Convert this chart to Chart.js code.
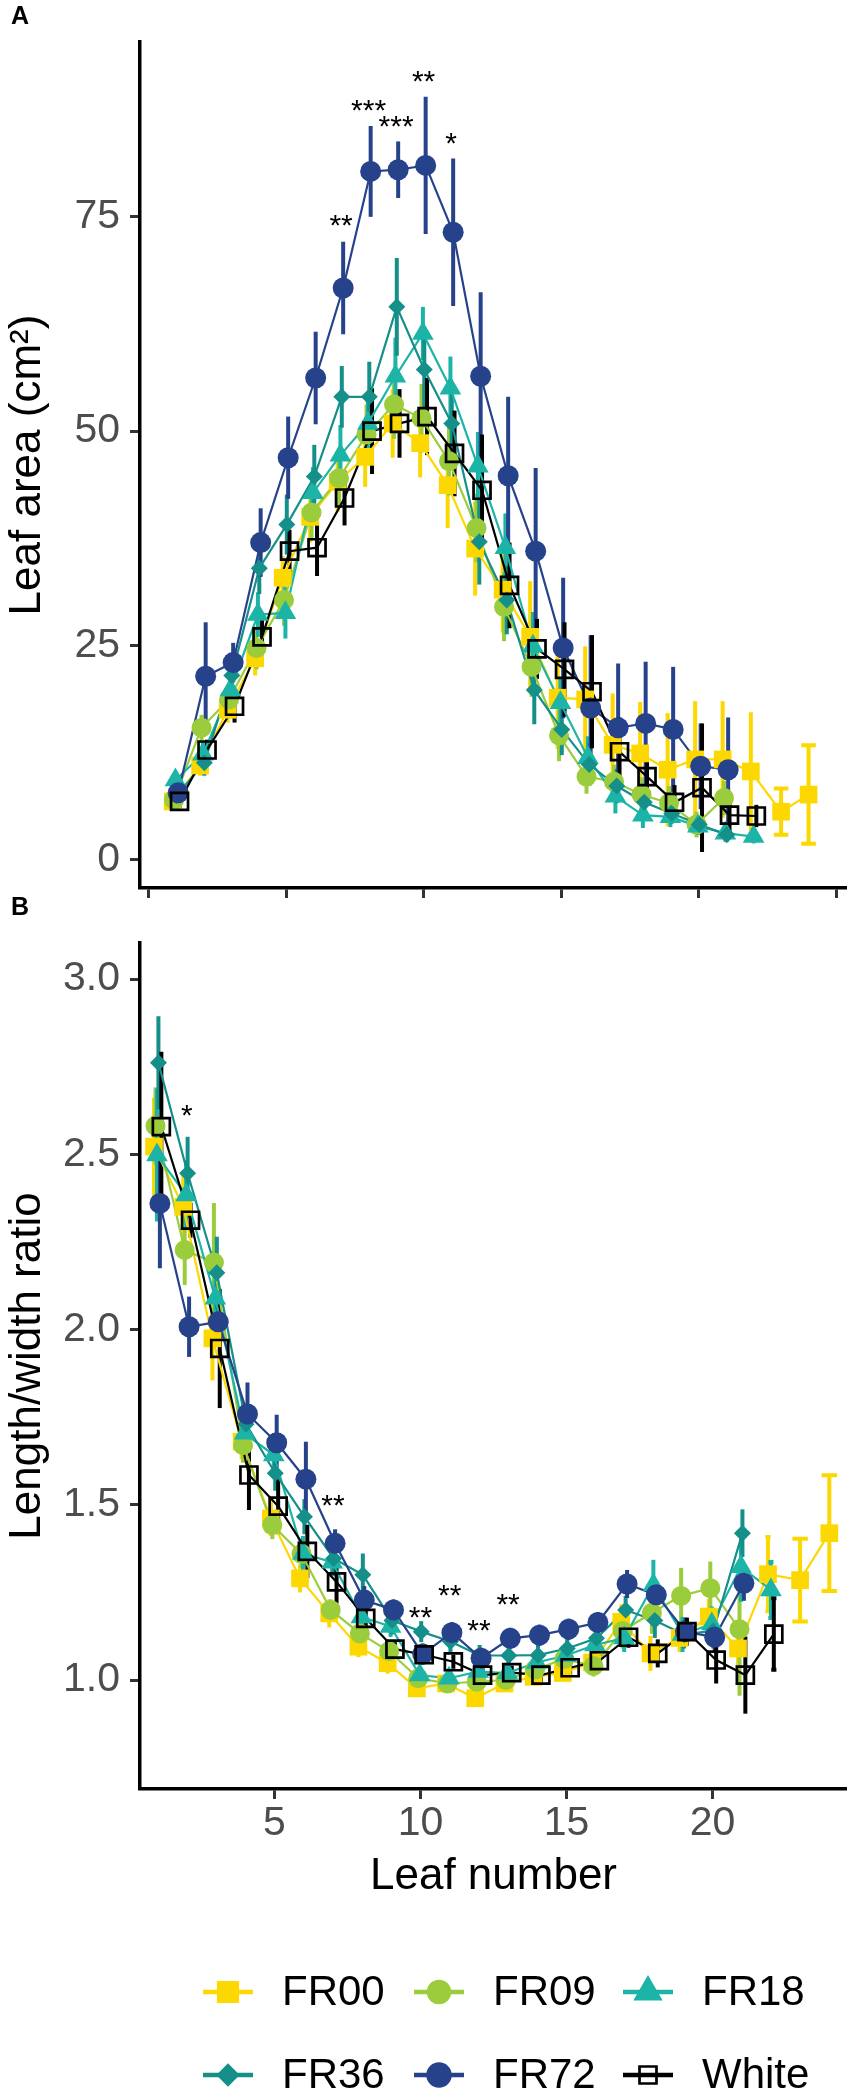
<!DOCTYPE html>
<html>
<head>
<meta charset="utf-8">
<title>Leaf area and length/width ratio per leaf number</title>
<script src="https://cdn.jsdelivr.net/npm/chart.js@4.4.1/dist/chart.umd.min.js"></script>
<style>
  html, body { margin: 0; padding: 0; background: #ffffff; }
  #page { position: relative; width: 847px; height: 2091px; overflow: hidden; }
  #page canvas { position: absolute; left: 0; }
  #chartA { top: 0; }
  #chartB { top: 890px; }
</style>
</head>
<body>
<div id="page">
  <canvas id="chartA" width="847" height="905"></canvas>
  <canvas id="chartB" width="847" height="1201"></canvas>
</div>
<script>
/* --------------------------------------------------------------------------
   1. DATA  (leaf 1, 2, 3 ... per treatment)
   -------------------------------------------------------------------------- */
const seriesNames = ['FR00', 'FR09', 'FR18', 'FR36', 'FR72', 'White'];

// Panel A: leaf area (cm²), mean and error half-width
const areaFR00  = [6.8, 11.0, 17.5, 23.5, 32.9, 40.0, 44.1, 47.0, 50.9, 48.6, 43.7, 36.3, 31.5, 26.0, 18.9, 18.7, 13.4, 12.4, 10.5, 11.7, 11.7, 10.3, 5.6, 7.6];
const areaFR09  = [7.0, 15.4, 18.7, 24.7, 30.3, 40.5, 44.5, 49.6, 53.1, 51.5, 46.5, 38.7, 29.5, 22.5, 14.5, 9.7, 9.1, 7.6, 6.6, 4.1, 7.2];
const areaFR18  = [9.3, 12.3, 19.8, 28.6, 28.8, 42.8, 47.2, 50.9, 56.4, 61.4, 55.0, 45.9, 36.4, 24.9, 18.3, 11.9, 7.4, 5.2, 5.0, 3.9, 3.1, 2.7];
const areaFR36  = [7.5, 11.3, 21.5, 34.0, 39.1, 44.7, 54.0, 54.0, 64.5, 57.2, 50.9, 37.1, 30.3, 19.8, 15.2, 11.1, 8.6, 6.7, 5.4, 4.1, 2.9];
const areaFR72  = [7.8, 21.4, 23.0, 37.0, 46.9, 56.2, 66.7, 80.3, 80.5, 81.0, 73.2, 56.4, 44.8, 36.0, 24.7, 17.7, 15.4, 15.9, 15.2, 10.9, 10.5];
const areaWhite = [6.8, 12.8, 17.9, 26.0, 36.0, 36.4, 42.2, 50.0, 50.9, 51.7, 47.4, 43.1, 32.0, 24.6, 22.2, 19.6, 12.6, 9.7, 6.7, 8.4, 5.2, 5.1];

const seAreaFR00  = [0.8, 1.2, 1.5, 2.0, 2.5, 3.0, 3.5, 3.5, 4.0, 4.0, 5.0, 5.5, 5.0, 6.5, 6.0, 6.2, 6.0, 6.0, 6.6, 6.8, 6.8, 6.9, 2.7, 5.75];
const seAreaFR09  = [1.0, 1.5, 2.0, 2.5, 3.0, 3.0, 3.5, 3.5, 4.0, 4.0, 4.0, 4.0, 4.0, 3.5, 3.0, 2.0, 2.0, 2.0, 2.0, 1.5, 2.0];
const seAreaFR18  = [1.0, 1.5, 2.0, 2.6, 3.0, 3.0, 3.5, 3.5, 4.5, 3.1, 3.7, 4.0, 4.0, 4.0, 3.0, 2.5, 2.0, 1.5, 1.2, 1.0, 1.0, 0.8];
const seAreaFR36  = [1.0, 1.5, 2.0, 3.0, 3.5, 3.7, 3.6, 4.1, 5.7, 4.5, 4.5, 5.0, 4.0, 4.0, 3.0, 2.5, 2.0, 1.5, 1.2, 1.0, 0.8];
const seAreaFR72  = [1.0, 6.3, 2.3, 4.0, 4.8, 5.4, 5.4, 5.3, 3.3, 8.0, 8.6, 9.8, 9.2, 9.7, 8.2, 8.5, 7.5, 7.2, 7.3, 5.0, 6.1];
const seAreaWhite = [0.8, 1.2, 1.9, 2.0, 2.5, 3.3, 3.2, 5.0, 4.0, 4.5, 5.0, 6.5, 5.0, 3.5, 5.5, 6.6, 4.0, 3.0, 2.0, 7.5, 2.5, 1.3];

// Panel B: length/width ratio, mean and error half-width
const ratioFR00  = [2.522, 2.350, 1.975, 1.680, 1.461, 1.290, 1.190, 1.095, 1.048, 0.976, 0.990, 0.948, 0.990, 1.009, 1.020, 1.050, 1.166, 1.076, 1.120, 1.181, 1.090, 1.302, 1.285, 1.419];
const ratioFR09  = [2.581, 2.227, 2.191, 1.670, 1.442, 1.360, 1.200, 1.133, 1.082, 1.005, 0.990, 0.995, 1.000, 1.030, 1.060, 1.040, 1.140, 1.192, 1.240, 1.262, 1.145];
const ratioFR18  = [2.498, 2.384, 2.089, 1.704, 1.642, 1.361, 1.336, 1.180, 1.153, 1.014, 1.005, 1.024, 1.020, 1.050, 1.070, 1.100, 1.120, 1.271, 1.130, 1.160, 1.323, 1.257];
const ratioFR36  = [2.761, 2.446, 2.162, 1.730, 1.590, 1.466, 1.347, 1.300, 1.170, 1.138, 1.110, 1.070, 1.070, 1.071, 1.090, 1.119, 1.200, 1.170, 1.130, 1.140, 1.419];
const ratioFR72  = [2.360, 2.008, 2.022, 1.759, 1.677, 1.573, 1.390, 1.228, 1.200, 1.074, 1.135, 1.062, 1.119, 1.128, 1.145, 1.164, 1.274, 1.243, 1.138, 1.122, 1.276];
const ratioWhite = [2.579, 2.312, 1.946, 1.585, 1.496, 1.367, 1.280, 1.176, 1.088, 1.072, 1.052, 1.014, 1.021, 1.014, 1.035, 1.055, 1.122, 1.076, 1.138, 1.057, 1.014, 1.131];

const seRatioFR00  = [0.14, 0.10, 0.12, 0.05, 0.05, 0.04, 0.04, 0.03, 0.03, 0.02, 0.02, 0.02, 0.02, 0.02, 0.02, 0.03, 0.05, 0.05, 0.04, 0.05, 0.06, 0.106, 0.118, 0.165];
const seRatioFR09  = [0.11, 0.10, 0.17, 0.05, 0.04, 0.04, 0.03, 0.03, 0.03, 0.02, 0.02, 0.02, 0.02, 0.02, 0.03, 0.03, 0.05, 0.06, 0.08, 0.076, 0.19];
const seRatioFR18  = [0.19, 0.10, 0.08, 0.05, 0.05, 0.05, 0.04, 0.03, 0.03, 0.02, 0.02, 0.02, 0.02, 0.02, 0.03, 0.03, 0.04, 0.072, 0.05, 0.05, 0.10, 0.08];
const seRatioFR36  = [0.133, 0.104, 0.103, 0.06, 0.05, 0.05, 0.05, 0.061, 0.04, 0.03, 0.03, 0.03, 0.03, 0.03, 0.03, 0.03, 0.04, 0.05, 0.04, 0.05, 0.068];
const seRatioFR72  = [0.185, 0.086, 0.07, 0.09, 0.08, 0.107, 0.04, 0.04, 0.03, 0.03, 0.03, 0.03, 0.03, 0.03, 0.03, 0.03, 0.04, 0.04, 0.04, 0.04, 0.05];
const seRatioWhite = [0.214, 0.05, 0.17, 0.10, 0.08, 0.076, 0.062, 0.03, 0.02, 0.02, 0.02, 0.02, 0.02, 0.02, 0.02, 0.02, 0.03, 0.04, 0.04, 0.067, 0.11, 0.102];

// significance marks (leaf, height of the mark, text)
const starLeafA = [7, 8, 9, 10, 11];
const starValA  = [74.9, 88.3, 86.4, 91.7, 84.4];
const starTextA = ['**', '***', '***', '**', '*'];
const starLeafB = [2, 7, 10, 11, 12, 13];
const starValB  = [2.631, 1.518, 1.200, 1.262, 1.164, 1.238];
const starTextB = ['*', '**', '**', '**', '**', '**'];

// tick values
const ticksAx = [0, 5, 10, 15, 20, 25];
const ticksAy = [0, 25, 50, 75];
const ticksBx = [5, 10, 15, 20];
const ticksBy = [1.0, 1.5, 2.0, 2.5, 3.0];

/* --------------------------------------------------------------------------
   2. STYLE
   -------------------------------------------------------------------------- */
const FONT = "'Liberation Sans', Arial, Helvetica, sans-serif";
const COLORS = ['#FDD700', '#9BCC3B', '#1DB4A8', '#148F89', '#26428B', '#000000'];
const MARKERS = [
  { style: 'rect',     radius: 12.5, fill: true  },
  { style: 'circle',   radius: 10,   fill: true  },
  { style: 'triangle', radius: 12.5, fill: true  },
  { style: 'rectRot',  radius: 8.5,  fill: true  },
  { style: 'circle',   radius: 10.5, fill: true  },
  { style: 'rect',     radius: 12,   fill: false },
];
const DODGE = 0.3;   // like position_dodge(): series at one leaf share this width
const CAP = 0.53;    // errorbar width, also shared between the series at a leaf
const ERR_LW = 4;

Chart.defaults.font.family = FONT;

// dodge the series that exist at each leaf, as ggplot does
function buildPoints(valueArrays) {
  const maxLeaf = Math.max(...valueArrays.map(a => a.length));
  const out = valueArrays.map(() => []);
  for (let leaf = 1; leaf <= maxLeaf; leaf++) {
    const present = [];
    valueArrays.forEach((a, i) => { if (a.length >= leaf) present.push(i); });
    const n = present.length;
    present.forEach((i, j) => {
      out[i].push({ x: leaf + (j - (n - 1) / 2) * DODGE / n, y: valueArrays[i][leaf - 1], n: n });
    });
  }
  return out;
}

/* --------------------------------------------------------------------------
   3. PLUGINS (error bars, stars, panel tag, legend)
   -------------------------------------------------------------------------- */
function errorBars(points, se) {
  return {
    id: 'errorBars',
    beforeDatasetsDraw(chart) {
      const { ctx } = chart;
      const xs = chart.scales.x, ys = chart.scales.y;
      ctx.save();
      ctx.lineWidth = ERR_LW;
      ctx.lineCap = 'butt';
      points.forEach((pts, i) => {
        ctx.strokeStyle = COLORS[i];
        pts.forEach((pt, k) => {
          const e = se[i][k];
          const px = xs.getPixelForValue(pt.x);
          const y1 = ys.getPixelForValue(pt.y - e);
          const y2 = ys.getPixelForValue(pt.y + e);
          ctx.beginPath();
          ctx.moveTo(px, y1);
          ctx.lineTo(px, y2);
          const half = xs.getPixelForValue(pt.x + CAP / pt.n / 2) - px;
          if (half * 2 > ERR_LW + 1) {
            ctx.moveTo(px - half, y1); ctx.lineTo(px + half, y1);
            ctx.moveTo(px - half, y2); ctx.lineTo(px + half, y2);
          }
          ctx.stroke();
        });
      });
      ctx.restore();
    }
  };
}

function starLabels(leaves, vals, texts) {
  return {
    id: 'starLabels',
    afterDatasetsDraw(chart) {
      const { ctx } = chart;
      ctx.save();
      ctx.fillStyle = '#000';
      ctx.font = '30px ' + FONT;
      ctx.textAlign = 'center';
      ctx.textBaseline = 'alphabetic';
      leaves.forEach((leaf, k) => {
        const px = chart.scales.x.getPixelForValue(leaf);
        const py = chart.scales.y.getPixelForValue(vals[k]);
        ctx.fillText(texts[k], px, py + 17);
      });
      ctx.restore();
    }
  };
}

function panelTag(letter, y) {
  return {
    id: 'panelTag',
    afterDraw(chart) {
      const { ctx } = chart;
      ctx.save();
      ctx.fillStyle = '#000';
      ctx.font = 'bold 25px ' + FONT;
      ctx.textAlign = 'left';
      ctx.textBaseline = 'middle';
      ctx.fillText(letter, 11, y);
      ctx.restore();
    }
  };
}

function drawMarker(ctx, i, x, y) {
  const m = MARKERS[i];
  ctx.fillStyle = m.fill ? COLORS[i] : 'rgba(0,0,0,0)';
  ctx.strokeStyle = COLORS[i];
  ctx.lineWidth = m.fill ? 0 : 2.7;
  Chart.helpers.drawPoint(ctx, { pointStyle: m.style, radius: m.radius, rotation: 0, borderWidth: ctx.lineWidth }, x, y);
}

// legend below panel B: 3 columns x 2 rows
const keyLegend = {
  id: 'keyLegend',
  afterDraw(chart) {
    const { ctx } = chart;
    const colX = [203, 414, 623];
    const rowY = [1102, 1185];
    ctx.save();
    seriesNames.forEach((name, i) => {
      const x0 = colX[i % 3], cy = rowY[Math.floor(i / 3)];
      ctx.strokeStyle = COLORS[i];
      ctx.lineWidth = 4.5;
      ctx.beginPath();
      ctx.moveTo(x0, cy);
      ctx.lineTo(x0 + 50, cy);
      ctx.stroke();
      drawMarker(ctx, i, x0 + 25, cy);
      ctx.fillStyle = '#000';
      ctx.font = '42px ' + FONT;
      ctx.textAlign = 'left';
      ctx.textBaseline = 'middle';
      ctx.fillText(name, x0 + 79, cy + 1);
    });
    ctx.restore();
  }
};

/* --------------------------------------------------------------------------
   4. CHARTS
   -------------------------------------------------------------------------- */
// keep tick labels from pushing the plot area around
function noOverflow(s) {
  s.paddingTop = 0; s.paddingBottom = 0; s.paddingLeft = 0; s.paddingRight = 0;
}

function panelChart(canvasId, p) {
  const pts = buildPoints(p.values);
  const datasets = [];
  // lines first (drawn underneath), then the markers, White on top
  pts.forEach((data, i) => {
    datasets.push({
      label: seriesNames[i] + ' line', data: data,
      borderColor: COLORS[i], borderWidth: 2.2, pointRadius: 0, fill: false,
      order: 100 + (5 - i),
    });
  });
  pts.forEach((data, i) => {
    const m = MARKERS[i];
    datasets.push({
      label: seriesNames[i], data: data, showLine: false,
      pointStyle: m.style, pointRadius: m.radius,
      pointBackgroundColor: m.fill ? COLORS[i] : 'rgba(0,0,0,0)',
      pointBorderColor: COLORS[i], pointBorderWidth: m.fill ? 0 : 2.7,
      order: 5 - i,
    });
  });

  const axisBorder = { display: true, color: '#000000', width: 3.5 };
  const axisGrid = { drawOnChartArea: false, drawTicks: true, tickLength: 10, tickWidth: 3, tickColor: '#333333' };

  return new Chart(document.getElementById(canvasId), {
    type: 'line',
    data: { datasets: datasets },
    options: {
      responsive: false,
      animation: false,
      events: [],
      layout: { autoPadding: false, padding: p.padding },
      plugins: { legend: { display: false }, tooltip: { enabled: false } },
      scales: {
        x: {
          type: 'linear', min: p.xMin, max: p.xMax,
          afterBuildTicks: s => { s.ticks = p.xTicks.map(v => ({ value: v })); },
          afterFit: s => { s.height = p.xHeight; noOverflow(s); },
          border: axisBorder,
          grid: axisGrid,
          ticks: {
            display: p.xLabels, color: '#4D4D4D', font: { size: 41 }, padding: 0,
            maxRotation: 0, autoSkip: false, callback: v => String(v),
          },
          title: {
            display: !!p.xTitle, text: p.xTitle || '', color: '#000000',
            font: { size: 44 }, padding: { top: 0, bottom: 1 },
          },
        },
        y: {
          type: 'linear', min: p.yMin, max: p.yMax,
          afterBuildTicks: s => { s.ticks = p.yTicks.map(v => ({ value: v })); },
          afterFit: s => { s.width = 140; noOverflow(s); },
          border: axisBorder,
          grid: axisGrid,
          ticks: { color: '#4D4D4D', font: { size: 41 }, padding: 10, callback: p.yFormat },
          title: {
            display: true, text: p.yTitle, color: '#000000',
            font: { size: 44 }, padding: { top: 1.5, bottom: 0 },
          },
        },
      },
    },
    plugins: [errorBars(pts, p.se), starLabels(p.starLeaf, p.starVal, p.starText), panelTag(p.tag, p.tagY)].concat(p.extra || []),
  });
}

// Panel A: leaf area
panelChart('chartA', {
  values: [areaFR00, areaFR09, areaFR18, areaFR36, areaFR72, areaWhite],
  se: [seAreaFR00, seAreaFR09, seAreaFR18, seAreaFR36, seAreaFR72, seAreaWhite],
  padding: { top: 42, right: 0, bottom: 0, left: 0 },
  xMin: -0.313, xMax: 25.397, xTicks: ticksAx, xLabels: false, xHeight: 17,
  yMin: -3.3, yMax: 95.4, yTicks: ticksAy, yFormat: v => String(v),
  yTitle: 'Leaf area (cm²)',
  starLeaf: starLeafA, starVal: starValA, starText: starTextA,
  tag: 'A', tagY: 17,
});

// Panel B: length/width ratio, with the legend under it
panelChart('chartB', {
  values: [ratioFR00, ratioFR09, ratioFR18, ratioFR36, ratioFR72, ratioWhite],
  se: [seRatioFR00, seRatioFR09, seRatioFR18, seRatioFR36, seRatioFR72, seRatioWhite],
  padding: { top: 53, right: 0, bottom: 187, left: 0 },
  xMin: 0.394, xMax: 24.606, xTicks: ticksBx, xLabels: true, xHeight: 115,
  xTitle: 'Leaf number',
  yMin: 0.689, yMax: 3.103, yTicks: ticksBy, yFormat: v => v.toFixed(1),
  yTitle: 'Length/width ratio',
  starLeaf: starLeafB, starVal: starValB, starText: starTextB,
  tag: 'B', tagY: 18,
  extra: [keyLegend],
});
</script>
</body>
</html>
